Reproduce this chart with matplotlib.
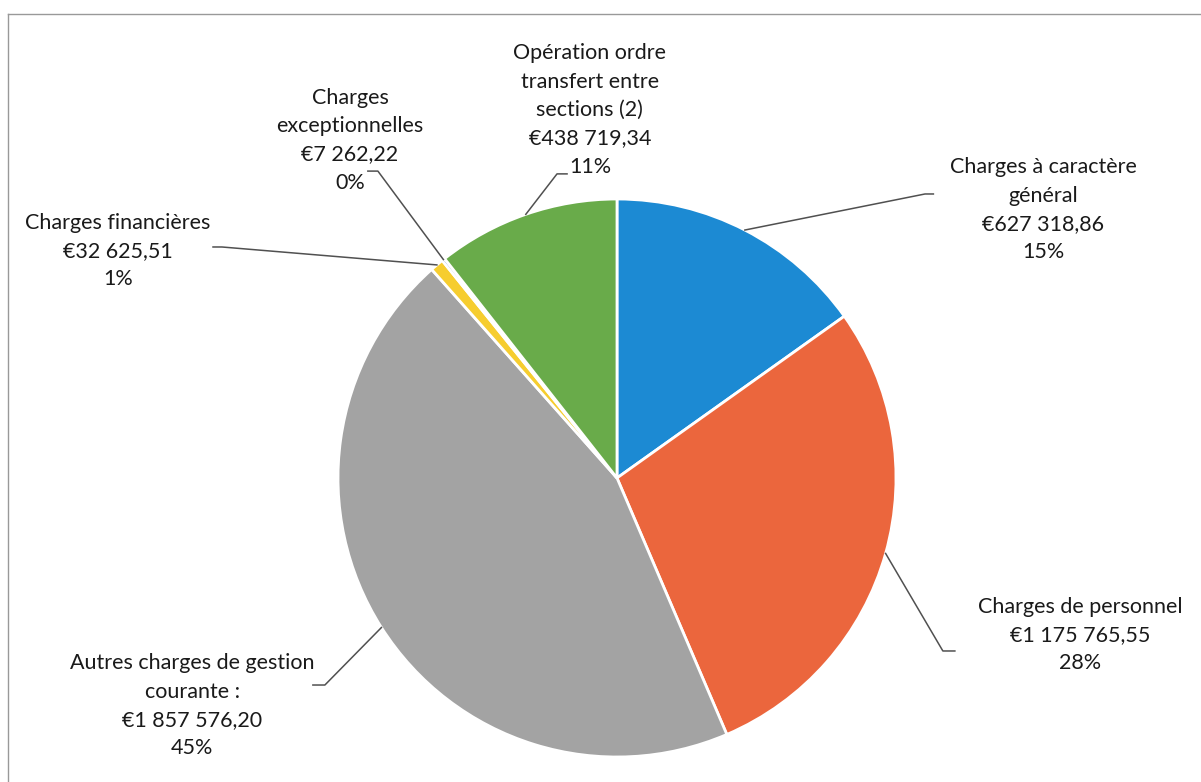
import matplotlib.pyplot as plt
import numpy as np
from matplotlib.lines import Line2D

# valeurs
categories = [
    'Charges à caractère\ngénéral',
    'Charges de personnel',
    'Autres charges de gestion\ncourante :',
    'Charges financières',
    'Charges\nexceptionnelles',
    'Opération ordre\ntransfert entre\nsections (2)',
]
montants = [627318.86, 1175765.55, 1857576.20, 32625.51, 7262.22, 438719.34]
montants_txt = ['€627 318,86', '€1 175 765,55', '€1 857 576,20',
                '€32 625,51', '€7 262,22', '€438 719,34']

couleurs = ['#1c8ad3', '#eb663d', '#a3a3a3', '#f6cd2f', '#3d6fc0', '#69ab4a']

# position des étiquettes (unités du camembert, rayon = 1)
pos_texte = [(1.527, 0.961), (1.659, -0.563), (-1.523, -0.817),
             (-1.789, 0.814), (-0.957, 1.211), (-0.097, 1.319)]
# coude du trait de rappel + petit segment horizontal
coudes = [(1.104, 1.018), (1.168, -0.620), (-1.047, -0.742),
          (-1.416, 0.828), (-0.857, 1.100), (-0.215, 1.090)]
bout = [0.03, 0.043, -0.043, -0.032, -0.036, 0.036]

plt.rcParams['font.family'] = ['Lato', 'DejaVu Sans']

fig = plt.figure(figsize=(12.01, 7.82), dpi=100)
ax = fig.add_axes([0, 0, 1, 1])

wedges, _ = ax.pie(montants, colors=couleurs, startangle=90, counterclock=False,
                   wedgeprops=dict(edgecolor='white', linewidth=2))

total = sum(montants)
for w, cat, val, txt, (tx, ty), (cx, cy), b in zip(
        wedges, categories, montants, montants_txt, pos_texte, coudes, bout):
    ang = np.deg2rad((w.theta1 + w.theta2) / 2)
    px, py = np.cos(ang), np.sin(ang)
    ax.plot([px, cx, cx + b], [py, cy, cy], color='#505050', lw=1.1)
    pct = f'{round(100 * val / total):d}%'
    ax.text(tx, ty, f'{cat}\n{txt}\n{pct}', ha='center', va='center',
            fontsize=15.5, color='#1a1a1a', linespacing=1.52)

ax.set_xlim(-617 / 279, (1201 - 617) / 279)
ax.set_ylim(-(782 - 478) / 279, 478 / 279)
ax.set_aspect('auto')
ax.axis('off')

# cadre gris du graphique
fig.add_artist(Line2D([8 / 1201, 1], [1 - 14 / 782, 1 - 14 / 782],
                      color='#999999', lw=1))
fig.add_artist(Line2D([8 / 1201, 8 / 1201], [0, 1 - 14 / 782],
                      color='#999999', lw=1))

fig.savefig('out.png', dpi=100, facecolor='white')
